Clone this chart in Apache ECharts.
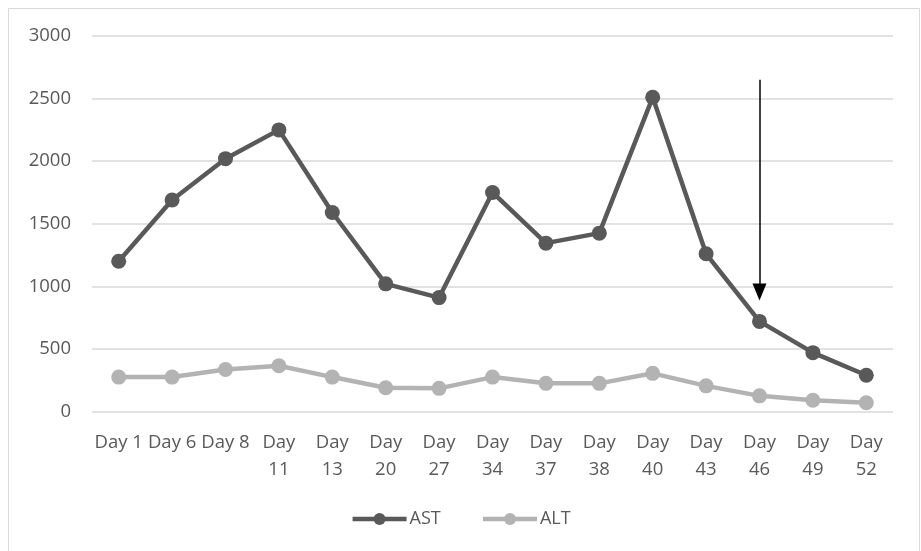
<!DOCTYPE html>
<html>
<head>
<meta charset="utf-8">
<script src="https://cdn.jsdelivr.net/npm/echarts@6/dist/echarts.min.js"></script>
<style>html,body{margin:0;padding:0;background:#fff;}#c{width:921px;height:551px;}</style>
</head>
<body>
<div id="c"></div>
<script>
const categories = ['Day 1','Day 6','Day 8','Day 11','Day 13','Day 20','Day 27','Day 34','Day 37','Day 38','Day 40','Day 43','Day 46','Day 49','Day 52'];
const astValues = [1200,1690,2020,2250,1590,1020,910,1750,1345,1425,2510,1260,720,470,290];
const altValues = [275,275,335,365,275,190,185,275,225,225,305,205,125,90,70];
const yTicks = {min:0, max:3000, interval:500};
const arrowStart = ['Day 46', 2650];
const arrowEnd = ['Day 46', 955];

const FONT = '"Open Sans", "Liberation Sans", sans-serif';
const chart = echarts.init(document.getElementById('c'), null, {renderer:'canvas'});
chart.setOption({
  backgroundColor:'#fff',
  animation:false,
  graphic:[{type:'rect', shape:{x:8.5,y:8.5,width:911,height:560}, style:{fill:'none', stroke:'#d9d9d9', lineWidth:1}, silent:true, z:-1}],
  grid:{left:92,right:28,top:36,bottom:139.5},
  legend:{
    bottom:18, left:'center', itemGap:40, itemWidth:54, itemHeight:15,
    lineStyle:{width:4.5},
    textStyle:{fontFamily:FONT, fontSize:18, color:'#595959', padding:[0,0,0,-2]},
    data:['AST','ALT']
  },
  xAxis:{
    type:'category', data:categories, boundaryGap:true,
    axisLine:{show:false}, axisTick:{show:false},
    axisLabel:{interval:0, margin:18, fontFamily:FONT, fontSize:18.5, color:'#595959', lineHeight:27,
      formatter:v=>v.replace(/^Day (\d\d)$/,'Day\n$1')}
  },
  yAxis:{
    type:'value', min:yTicks.min, max:yTicks.max, interval:yTicks.interval,
    axisLine:{show:false}, axisTick:{show:false},
    axisLabel:{margin:21, fontFamily:FONT, fontSize:18.5, color:'#595959', formatter:v=>String(v)},
    splitLine:{lineStyle:{color:'#d9d9d9', width:1.5}}
  },
  series:[
    {name:'AST', type:'line', data:astValues, symbol:'circle', symbolSize:15,
     lineStyle:{color:'#595959', width:4.5}, itemStyle:{color:'#595959'},
     markLine:{silent:true, symbol:['none','triangle'], symbolSize:[14,17], label:{show:false},
       lineStyle:{color:'#000', width:1.5, type:'solid'},
       data:[[{coord:arrowStart},{coord:arrowEnd}]]}},
    {name:'ALT', type:'line', data:altValues, symbol:'circle', symbolSize:15,
     lineStyle:{color:'#b3b3b3', width:4.5}, itemStyle:{color:'#b3b3b3'}}
  ]
});
</script>
</body>
</html>
